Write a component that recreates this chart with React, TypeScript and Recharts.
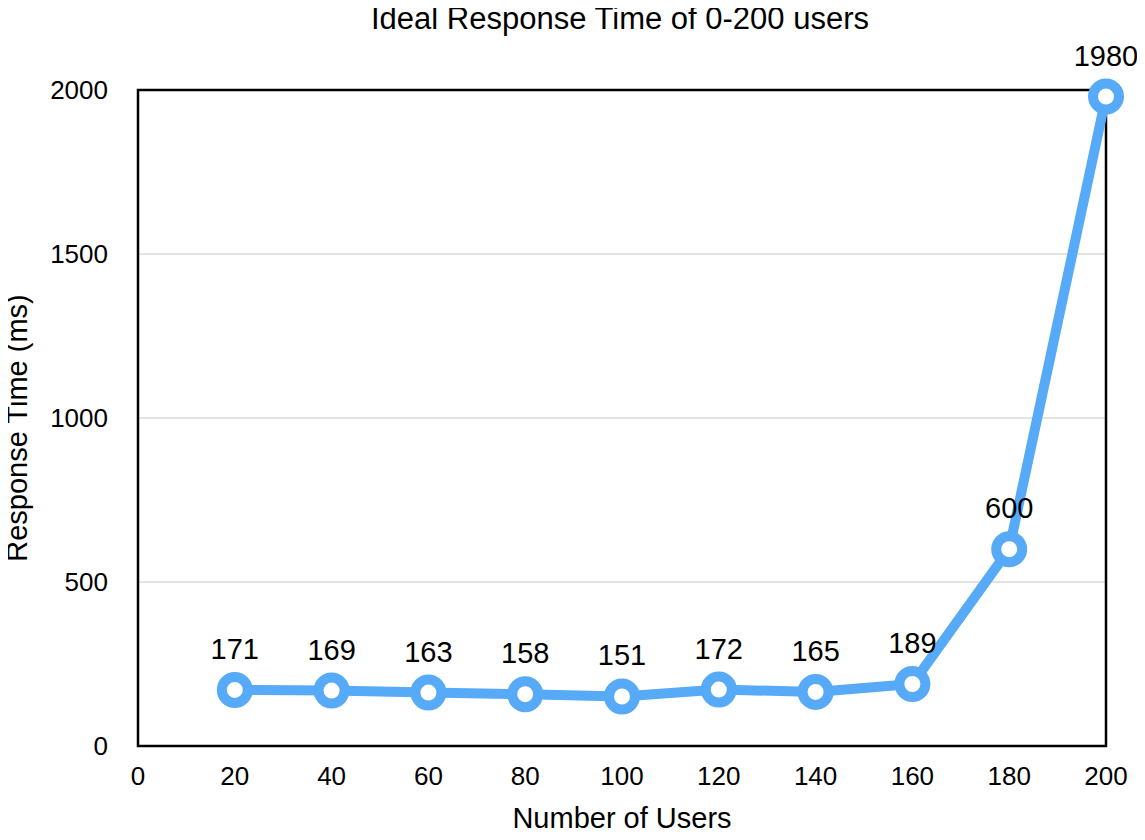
import { CartesianGrid, LabelList, Line, LineChart, ReferenceArea, XAxis, YAxis } from "recharts";

const users = [20, 40, 60, 80, 100, 120, 140, 160, 180, 200];
const responseMs = [171, 169, 163, 158, 151, 172, 165, 189, 600, 1980];
const xTicks = [0, 20, 40, 60, 80, 100, 120, 140, 160, 180, 200];
const yTicks = [0, 500, 1000, 1500, 2000];

const data = users.map((u, i) => ({ users: u, ms: responseMs[i] }));

const FONT = '"Liberation Sans", Arial, Helvetica, sans-serif';
const BLUE = "#56aaf7";

export default function App() {
  // pull the chart back over the body margin so it fills the whole window
  return (
    <div style={{ position: "relative", width: 1145, height: 840, margin: -8, fontFamily: FONT }}>
      <div
        style={{
          position: "absolute",
          left: 138,
          width: 964,
          top: 1,
          height: 36,
          lineHeight: "36px",
          textAlign: "center",
          fontSize: 31,
          color: "#000",
          zIndex: 1,
        }}
      >
        Ideal Response Time of 0-200 users
      </div>
      <LineChart
        width={1145}
        height={840}
        data={data}
        margin={{ top: 90, right: 39, bottom: 44, left: 0 }}
        style={{ fontFamily: FONT }}
      >
        <CartesianGrid vertical={false} stroke="#c8c8c8" strokeWidth={1} />
        <ReferenceArea
          x1={0}
          x2={200}
          y1={0}
          y2={2000}
          fill="none"
          fillOpacity={0}
          stroke="#000"
          strokeWidth={2.5}
        />
        <XAxis
          dataKey="users"
          type="number"
          domain={[0, 200]}
          ticks={xTicks}
          height={50}
          axisLine={false}
          tickLine={false}
          tickSize={0}
          tickMargin={21}
          tick={{ fill: "#000", fontSize: 26 }}
          interval={0}
          label={{ value: "Number of Users", position: "bottom", offset: 11, fill: "#000", fontSize: 29 }}
        />
        <YAxis
          type="number"
          domain={[0, 2000]}
          ticks={yTicks}
          width={138}
          axisLine={false}
          tickLine={false}
          tickSize={0}
          tickMargin={30}
          tick={{ fill: "#000", fontSize: 26 }}
          interval={0}
          label={{
            content: () => (
              <text
                x={17}
                y={428}
                transform="rotate(-90 17 428)"
                textAnchor="middle"
                dominantBaseline="central"
                fill="#000"
                fontSize={29}
                fontFamily={FONT}
              >
                Response Time (ms)
              </text>
            ),
          }}
        />
        <Line
          type="linear"
          dataKey="ms"
          stroke={BLUE}
          strokeWidth={10}
          dot={{ r: 13, stroke: BLUE, strokeWidth: 10, fill: "#fff" }}
          activeDot={false}
          isAnimationActive={false}
        >
          <LabelList dataKey="ms" position="top" offset={31} fill="#000" fontSize={29} />
        </Line>
      </LineChart>
    </div>
  );
}
